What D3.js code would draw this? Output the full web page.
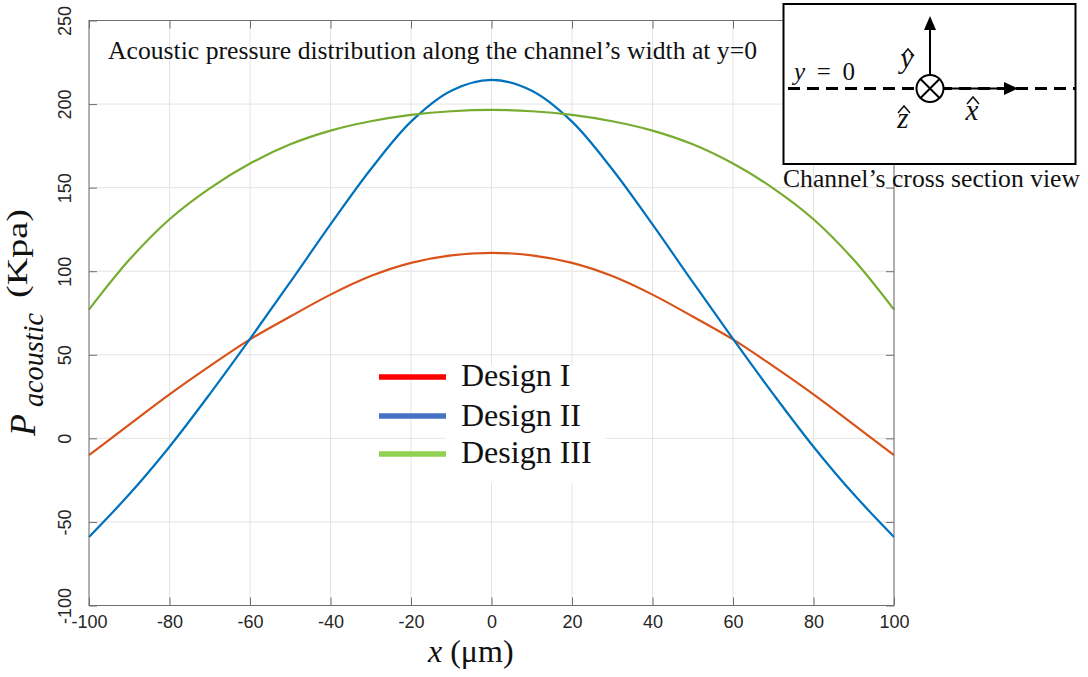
<!DOCTYPE html>
<html>
<head>
<meta charset="utf-8">
<script src="https://cdn.jsdelivr.net/npm/d3@7"></script>
<style>
  html, body { margin: 0; padding: 0; background: #ffffff; }
  svg { display: block; }
</style>
</head>
<body>
<svg id="chart" width="1088" height="677"></svg>
<script>
// Acoustic pressure (kPa) sampled across the channel width (µm)
const xPositions = [-100, -90, -80, -70, -60, -50, -40, -30, -20, -10, 0, 10, 20, 30, 40, 50, 60, 70, 80, 90, 100];
const designI   = [-10, 8.2, 26.3, 43.2, 59.2, 72.9, 86, 97.1, 105, 109.5, 111, 109.5, 105, 97.1, 86, 72.9, 59.2, 43.2, 26.3, 8.2, -10];
const designII  = [-59, -33.5, -5, 26.5, 59.5, 93.5, 128, 161, 189.5, 208, 214.5, 208, 189.5, 161, 128, 93.5, 59.5, 26.5, -5, -33.5, -59];
const designIII = [77, 106.8, 131.1, 149.6, 164.4, 175.9, 184.1, 189.7, 193.5, 195.7, 196.5, 195.7, 193.5, 189.7, 184.1, 175.9, 164.4, 149.6, 131.1, 106.8, 77];

const seriesNames = ["Design I", "Design II", "Design III"];
const seriesValues = [designI, designII, designIII];
const lineColors = ["#D95319", "#0072BD", "#77AC30"];
const legendColors = ["#FF0000", "#4472C4", "#92D050"];

const xTicks = [-100, -80, -60, -40, -20, 0, 20, 40, 60, 80, 100];
const yTicks = [-100, -50, 0, 50, 100, 150, 200, 250];

const svg = d3.select("#chart");
const plot = { left: 89, right: 894, top: 20.5, bottom: 605.5 };

const x = d3.scaleLinear().domain([-100, 100]).range([plot.left, plot.right]);
const y = d3.scaleLinear().domain([-100, 250]).range([plot.bottom, plot.top]);

const axisColor = "#6f6f6f";
const tickFont = "'Liberation Sans', Arial, sans-serif";
const serif = "'Liberation Serif', 'Times New Roman', serif";
const plainNumber = d => String(d);   // hyphen-minus, as in the tick labels

// grid
const grid = svg.append("g").attr("stroke", "#e4e4e4").attr("stroke-width", 1);
grid.selectAll("line.gx").data(xTicks).join("line")
  .attr("x1", d => x(d)).attr("x2", d => x(d))
  .attr("y1", plot.top).attr("y2", plot.bottom);
grid.selectAll("line.gy").data(yTicks).join("line")
  .attr("x1", plot.left).attr("x2", plot.right)
  .attr("y1", d => y(d)).attr("y2", d => y(d));

// curves
const line = d3.line()
  .x(d => x(d[0]))
  .y(d => y(d[1]))
  .curve(d3.curveCatmullRom.alpha(0.5));

seriesValues.forEach((vals, i) => {
  svg.append("path")
    .datum(xPositions.map((xv, k) => [xv, vals[k]]))
    .attr("fill", "none")
    .attr("stroke", lineColors[i])
    .attr("stroke-width", 2.2)
    .attr("d", line);
});

// axes with inward ticks
const xAxisBottom = d3.axisBottom(x).tickValues(xTicks).tickFormat(plainNumber)
  .tickSize(-8).tickSizeOuter(0).tickPadding(10);
const gxb = svg.append("g").attr("transform", `translate(0,${plot.bottom})`).call(xAxisBottom);
gxb.select(".domain").remove();
gxb.selectAll("line").attr("stroke", axisColor);
gxb.selectAll("text").attr("font-family", tickFont).attr("font-size", 18).attr("fill", "#262626");

const xAxisTop = d3.axisTop(x).tickValues(xTicks).tickSize(-8).tickSizeOuter(0).tickFormat("");
const gxt = svg.append("g").attr("transform", `translate(0,${plot.top})`).call(xAxisTop);
gxt.select(".domain").remove();
gxt.selectAll("line").attr("stroke", axisColor);

const yAxisLeft = d3.axisLeft(y).tickValues(yTicks).tickFormat(plainNumber).tickSize(-8).tickSizeOuter(0);
const gyl = svg.append("g").attr("transform", `translate(${plot.left},0)`).call(yAxisLeft);
gyl.select(".domain").remove();
gyl.selectAll("line").attr("stroke", axisColor);
gyl.selectAll("text")
  .attr("x", null).attr("dy", null)
  .attr("text-anchor", "middle")
  .attr("transform", `translate(${71 - plot.left},0) rotate(-90)`)
  .attr("font-family", tickFont).attr("font-size", 18).attr("fill", "#262626");

const yAxisRight = d3.axisRight(y).tickValues(yTicks).tickSize(-8).tickSizeOuter(0).tickFormat("");
const gyr = svg.append("g").attr("transform", `translate(${plot.right},0)`).call(yAxisRight);
gyr.select(".domain").remove();
gyr.selectAll("line").attr("stroke", axisColor);

svg.append("rect")
  .attr("x", plot.left).attr("y", plot.top)
  .attr("width", plot.right - plot.left).attr("height", plot.bottom - plot.top)
  .attr("fill", "none").attr("stroke", axisColor).attr("stroke-width", 1);

// axis titles
svg.append("text")
  .attr("x", 428).attr("y", 662)
  .attr("font-family", serif).attr("font-size", 32).attr("fill", "#111")
  .call(t => {
    t.append("tspan").attr("font-style", "italic").text("x");
    t.append("tspan").text(" (μm)");
  });

svg.append("text")
  .attr("transform", "translate(35,436) rotate(-90)")
  .attr("font-family", serif).attr("font-size", 36).attr("font-style", "italic").attr("fill", "#111")
  .text("P");
svg.append("text")
  .attr("transform", "translate(43,407) rotate(-90)")
  .attr("font-family", serif).attr("font-size", 29).attr("font-style", "italic").attr("fill", "#111")
  .attr("textLength", 94).attr("lengthAdjust", "spacingAndGlyphs")
  .text("acoustic");
svg.append("text")
  .attr("transform", "translate(27,298) rotate(-90)")
  .attr("font-family", serif).attr("font-size", 29).attr("fill", "#111")
  .attr("textLength", 89).attr("lengthAdjust", "spacingAndGlyphs")
  .text("(Kpa)");

// title
svg.append("text")
  .attr("x", 108).attr("y", 59)
  .attr("font-family", serif).attr("font-size", 25).attr("fill", "#111")
  .attr("textLength", 649).attr("lengthAdjust", "spacingAndGlyphs")
  .text("Acoustic pressure distribution along the channel’s width at y=0");

// legend
svg.append("rect").attr("x", 445).attr("y", 365).attr("width", 160).attr("height", 118).attr("fill", "#ffffff");
const legendLineY = [377, 416, 454];
const legendTextY = [386, 426, 463];
seriesNames.forEach((name, i) => {
  svg.append("line")
    .attr("x1", 379).attr("x2", 446)
    .attr("y1", legendLineY[i]).attr("y2", legendLineY[i])
    .attr("stroke", legendColors[i]).attr("stroke-width", 5.5);
  svg.append("text")
    .attr("x", 461).attr("y", legendTextY[i])
    .attr("font-family", serif).attr("font-size", 32).attr("fill", "#111")
    .text(name);
});

// channel cross-section inset
const inset = svg.append("g");
inset.append("rect")
  .attr("x", 783.5).attr("y", 4).attr("width", 292).attr("height", 160)
  .attr("fill", "#ffffff").attr("stroke", "#000").attr("stroke-width", 2);
inset.append("line")
  .attr("x1", 788).attr("x2", 1076).attr("y1", 88.5).attr("y2", 88.5)
  .attr("stroke", "#000").attr("stroke-width", 2.8).attr("stroke-dasharray", "12,7");
// y-hat arrow
inset.append("line").attr("x1", 930).attr("x2", 930).attr("y1", 75).attr("y2", 28)
  .attr("stroke", "#000").attr("stroke-width", 2);
inset.append("path").attr("d", "M930,16 L924,30 L936,30 Z").attr("fill", "#000");
// x-hat arrow
inset.append("line").attr("x1", 944).attr("x2", 1006).attr("y1", 88.5).attr("y2", 88.5)
  .attr("stroke", "#000").attr("stroke-width", 2);
inset.append("path").attr("d", "M1018,88.5 L1004,82 L1004,95 Z").attr("fill", "#000");
// z-hat into the page
inset.append("circle").attr("cx", 930).attr("cy", 88.5).attr("r", 13.5)
  .attr("fill", "#fff").attr("stroke", "#000").attr("stroke-width", 2);
inset.append("path").attr("d", "M920.5,79 L939.5,98 M939.5,79 L920.5,98")
  .attr("stroke", "#000").attr("stroke-width", 2);

const unitLabels = [
  { letter: "y", x: 907, y: 68, hat: 49 },
  { letter: "z", x: 903, y: 128, hat: 106 },
  { letter: "x", x: 972, y: 120, hat: 97 }
];
unitLabels.forEach(u => {
  inset.append("text")
    .attr("x", u.x).attr("y", u.y).attr("text-anchor", "middle")
    .attr("font-family", serif).attr("font-size", 29).attr("font-style", "italic").attr("fill", "#111")
    .text(u.letter);
  inset.append("path")
    .attr("d", `M${u.x - 5},${u.hat + 7} L${u.x + 1},${u.hat} L${u.x + 7},${u.hat + 7}`)
    .attr("fill", "none").attr("stroke", "#111").attr("stroke-width", 1.5);
});

inset.append("text")
  .attr("x", 794).attr("y", 80)
  .attr("font-family", serif).attr("font-size", 25).attr("fill", "#111")
  .attr("textLength", 61).attr("lengthAdjust", "spacing")
  .call(t => {
    t.append("tspan").attr("font-style", "italic").text("y");
    t.append("tspan").text(" = 0");
  });

svg.append("text")
  .attr("x", 783).attr("y", 187)
  .attr("font-family", serif).attr("font-size", 25).attr("fill", "#111")
  .attr("textLength", 297).attr("lengthAdjust", "spacingAndGlyphs")
  .text("Channel’s cross section view");
</script>
</body>
</html>
